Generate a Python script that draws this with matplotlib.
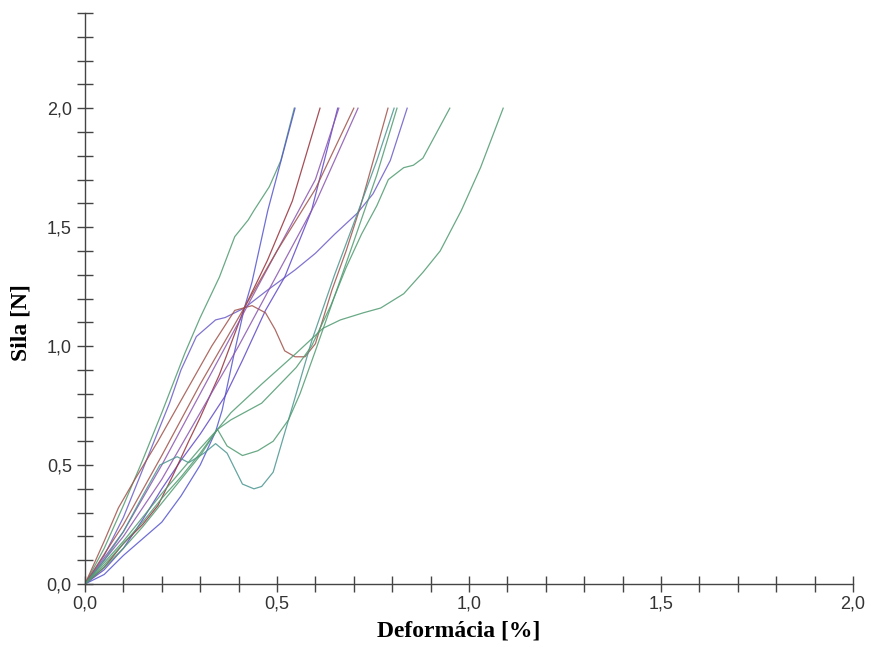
import numpy as np
import matplotlib.pyplot as plt
from matplotlib.ticker import MultipleLocator, FuncFormatter

# krivky sila-deformacia (odcitane z grafu), x v %, y v N
g1_x = [0, 0.05, 0.1, 0.15, 0.2, 0.26, 0.3, 0.35, 0.39, 0.425, 0.44, 0.48, 0.51, 0.545]
g1_y = [0, 0.15, 0.33, 0.52, 0.72, 0.97, 1.12, 1.29, 1.46, 1.53, 1.57, 1.67, 1.78, 2.0]

b1_x = [0, 0.05, 0.1, 0.15, 0.2, 0.25, 0.3, 0.32, 0.34, 0.357, 0.39, 0.415, 0.435, 0.476, 0.547]
b1_y = [0, 0.04, 0.12, 0.19, 0.26, 0.37, 0.5, 0.57, 0.64, 0.73, 0.98, 1.16, 1.27, 1.57, 2.0]

kn_x = [0, 0.05, 0.1, 0.15, 0.2, 0.22, 0.25, 0.29, 0.34, 0.365, 0.415, 0.475, 0.547, 0.6, 0.65, 0.71, 0.75, 0.795, 0.839]
kn_y = [0, 0.12, 0.28, 0.48, 0.68, 0.76, 0.9, 1.04, 1.11, 1.12, 1.16, 1.235, 1.32, 1.39, 1.47, 1.56, 1.64, 1.78, 2.0]

b2_x = [0, 0.05, 0.1, 0.15, 0.2, 0.25, 0.3, 0.365, 0.41, 0.47, 0.52, 0.59, 0.658]
b2_y = [0, 0.06, 0.15, 0.27, 0.4, 0.52, 0.63, 0.79, 0.94, 1.15, 1.29, 1.57, 2.0]

hb_x = [0, 0.05, 0.087, 0.13, 0.19, 0.26, 0.33, 0.39, 0.435, 0.47, 0.495, 0.52, 0.547, 0.573, 0.6, 0.643, 0.68, 0.716, 0.789]
hb_y = [0, 0.18, 0.32, 0.44, 0.6, 0.8, 1.0, 1.15, 1.17, 1.14, 1.07, 0.98, 0.955, 0.955, 1.01, 1.235, 1.4, 1.58, 2.0]

rb_x = [0, 0.05, 0.1, 0.15, 0.19, 0.23, 0.27, 0.3, 0.35, 0.415, 0.475, 0.54, 0.612]
rb_y = [0, 0.07, 0.17, 0.25, 0.33, 0.46, 0.6, 0.7, 0.88, 1.16, 1.36, 1.61, 2.0]

p1_x = [0, 0.1, 0.2, 0.3, 0.4, 0.5, 0.6, 0.661]
p1_y = [0, 0.22, 0.5, 0.8, 1.1, 1.4, 1.7, 2.0]

br_x = [0, 0.1, 0.2, 0.3, 0.4, 0.5, 0.6, 0.7]
br_y = [0, 0.25, 0.54, 0.84, 1.12, 1.4, 1.66, 2.0]

p2_x = [0, 0.1, 0.2, 0.3, 0.4, 0.5, 0.6, 0.711]
p2_y = [0, 0.2, 0.44, 0.72, 1.0, 1.3, 1.6, 2.0]

t3_x = [0, 0.05, 0.1, 0.15, 0.195, 0.24, 0.27, 0.31, 0.34, 0.37, 0.41, 0.44, 0.46, 0.49, 0.53, 0.59, 0.65, 0.71, 0.76, 0.805]
t3_y = [0, 0.1, 0.22, 0.37, 0.5, 0.535, 0.51, 0.55, 0.59, 0.55, 0.42, 0.4, 0.41, 0.47, 0.69, 1.02, 1.3, 1.56, 1.78, 2.0]

g4_x = [0, 0.1, 0.2, 0.3, 0.345, 0.37, 0.39, 0.41, 0.45, 0.49, 0.53, 0.56, 0.6, 0.65, 0.7, 0.76, 0.8125]
g4_y = [0, 0.18, 0.38, 0.57, 0.65, 0.58, 0.56, 0.54, 0.56, 0.6, 0.69, 0.8, 0.98, 1.21, 1.44, 1.72, 2.0]

g5_x = [0, 0.05, 0.1, 0.15, 0.2, 0.25, 0.3, 0.345, 0.38, 0.46, 0.55, 0.62, 0.665, 0.725, 0.77, 0.83, 0.88, 0.925, 0.98, 1.03, 1.089]
g5_y = [0, 0.08, 0.17, 0.26, 0.36, 0.45, 0.55, 0.65, 0.72, 0.84, 0.97, 1.075, 1.11, 1.14, 1.16, 1.22, 1.31, 1.4, 1.57, 1.75, 2.0]

g6_x = [0, 0.05, 0.1, 0.15, 0.2, 0.25, 0.3, 0.345, 0.38, 0.46, 0.55, 0.59, 0.64, 0.68, 0.72, 0.76, 0.79, 0.83, 0.855, 0.88, 0.95]
g6_y = [0, 0.07, 0.15, 0.24, 0.34, 0.44, 0.54, 0.65, 0.69, 0.76, 0.91, 1.0, 1.17, 1.33, 1.47, 1.59, 1.7, 1.75, 1.76, 1.79, 2.0]

zelena = '#4f9a70'
modra = '#5555d0'
hneda = '#a0524a'
fialova = '#8a55b0'
tyrkys = '#4a9590'

krivky = [
    (g1_x, g1_y, zelena),
    (b1_x, b1_y, modra),
    (kn_x, kn_y, '#6a5cc8'),
    (b2_x, b2_y, '#6048c8'),
    (hb_x, hb_y, hneda),
    (rb_x, rb_y, '#962f3a'),
    (p1_x, p1_y, fialova),
    (br_x, br_y, hneda),
    (p2_x, p2_y, fialova),
    (t3_x, t3_y, tyrkys),
    (g4_x, g4_y, zelena),
    (g5_x, g5_y, zelena),
    (g6_x, g6_y, zelena),
]

fig = plt.figure(figsize=(8.7, 6.48), dpi=100)
ax = fig.add_axes([85/870, 64/648, 768/870, 571/648])

for x, y, c in krivky:
    ax.plot(x, y, color=c, lw=0.9, alpha=0.85)

ax.set_xlim(0, 2.0)
ax.set_ylim(0, 2.4)
ax.spines['top'].set_visible(False)
ax.spines['right'].set_visible(False)
for s in ['left', 'bottom']:
    ax.spines[s].set_color('#444444')
    ax.spines[s].set_linewidth(1.0)

ax.xaxis.set_major_locator(MultipleLocator(0.5))
ax.xaxis.set_minor_locator(MultipleLocator(0.1))
ax.yaxis.set_major_locator(MultipleLocator(0.5))
ax.yaxis.set_minor_locator(MultipleLocator(0.1))
ciarka = FuncFormatter(lambda v, p: ('%.1f' % v).replace('.', ','))
ax.xaxis.set_major_formatter(ciarka)
ax.yaxis.set_major_formatter(ciarka)
ax.set_yticks([t for t in np.arange(0, 2.01, 0.5)])
ax.tick_params(which='both', direction='inout', length=11, width=1, color='#444444')
ax.tick_params(labelsize=13, labelcolor='#333333', labelfontfamily='Liberation Sans')
ax.tick_params(axis='x', pad=3)
ax.tick_params(axis='y', pad=4)

ax.set_xlabel('Deformácia [%]', fontsize=17, fontweight='bold', family='Liberation Serif')
ax.set_ylabel('Sila [N]', fontsize=17, fontweight='bold', family='Liberation Serif')
ax.xaxis.set_label_coords(0.486, -0.064)
ax.yaxis.set_label_coords(-0.07, 0.457)

fig.savefig('out.png', dpi=100)
